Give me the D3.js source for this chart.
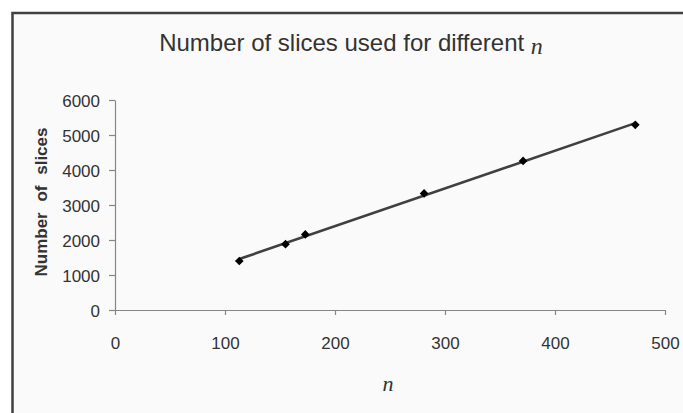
<!DOCTYPE html>
<html lang="en">
<head>
    <meta charset="UTF-8">
    <title>Number of slices used for different n</title>
    <style>
        body {
            margin: 0;
            background: #ffffff;
        }
        .tick text {
            font-family: "Liberation Sans", Arial, sans-serif;
            font-size: 17px;
            fill: #333333;
        }
        .axis path, .axis line {
            stroke: #868686;
            stroke-width: 1.2;
        }
    </style>
</head>
<body>
<div id="chart"></div>

<script src="https://cdn.jsdelivr.net/npm/d3@7"></script>
<script>
    // data
    const nValues = [113, 155, 173, 281, 371, 473];
    const sliceCounts = [1400, 1880, 2160, 3330, 4260, 5290];
    const xTicks = [0, 100, 200, 300, 400, 500];
    const yTicks = [0, 1000, 2000, 3000, 4000, 5000, 6000];

    const width = 683, height = 413;

    const svg = d3.select("#chart").append("svg")
        .attr("width", width)
        .attr("height", height);

    // chart frame (runs off the right and bottom edge)
    svg.append("rect")
        .attr("x", 12.5)
        .attr("y", 13)
        .attr("width", 720)
        .attr("height", 440)
        .attr("fill", "#fafafa")
        .attr("stroke", "#404040")
        .attr("stroke-width", 2.5);

    const x = d3.scaleLinear().domain([0, 500]).range([115, 665]);
    const y = d3.scaleLinear().domain([0, 6000]).range([310, 100]);

    // axes
    svg.append("g")
        .attr("class", "axis")
        .attr("transform", "translate(0," + y(0) + ")")
        .call(d3.axisBottom(x).tickValues(xTicks).tickFormat(d3.format("d"))
            .tickSize(5).tickSizeOuter(0))
        .call(g => g.selectAll(".tick text").attr("y", 0).attr("dy", 39));

    svg.append("g")
        .attr("class", "axis")
        .attr("transform", "translate(" + x(0) + ",0)")
        .call(d3.axisLeft(y).tickValues(yTicks).tickFormat(d3.format("d"))
            .tickSize(6).tickSizeOuter(0).tickPadding(9))
        .call(g => g.selectAll(".tick text").attr("dy", "0.36em"));

    // linear trend line (least squares)
    const data = nValues.map((n, i) => ({n: n, s: sliceCounts[i]}));
    const mx = d3.mean(data, d => d.n), my = d3.mean(data, d => d.s);
    const slope = d3.sum(data, d => (d.n - mx) * (d.s - my)) / d3.sum(data, d => (d.n - mx) * (d.n - mx));
    const icpt = my - slope * mx;
    const trend = d3.extent(nValues).map(n => [x(n), y(icpt + slope * n)]);

    svg.append("path")
        .attr("d", d3.line()(trend))
        .attr("fill", "none")
        .attr("stroke", "#404040")
        .attr("stroke-width", 2.6);

    // diamond markers
    svg.selectAll("path.marker")
        .data(data)
        .enter().append("path")
        .attr("class", "marker")
        .attr("d", d3.symbol().type(d3.symbolSquare).size(38))
        .attr("transform", d => "translate(" + x(d.n) + "," + y(d.s) + ") rotate(45)")
        .attr("fill", "#000000");

    // title
    const title = svg.append("text")
        .attr("x", 351)
        .attr("y", 51)
        .attr("text-anchor", "middle")
        .attr("font-family", "'Liberation Sans', Arial, sans-serif")
        .attr("font-size", 24)
        .attr("fill", "#333333");
    title.append("tspan").text("Number of slices used for different ");
    title.append("tspan")
        .attr("font-family", "'Liberation Serif', 'Times New Roman', serif")
        .attr("font-style", "italic")
        .attr("dy", 3)
        .text("n");

    // x axis label
    svg.append("text")
        .attr("x", 388)
        .attr("y", 391)
        .attr("text-anchor", "middle")
        .attr("font-family", "'Liberation Serif', 'Times New Roman', serif")
        .attr("font-style", "italic")
        .attr("font-size", 22)
        .attr("fill", "#333333")
        .text("n");

    // y axis label
    svg.append("text")
        .attr("transform", "translate(47,202) rotate(-90)")
        .attr("text-anchor", "middle")
        .attr("font-family", "'Liberation Sans', Arial, sans-serif")
        .attr("font-weight", "bold")
        .attr("font-size", 17)
        .attr("word-spacing", 6)
        .attr("fill", "#333333")
        .text("Number of slices");
</script>
</body>
</html>
